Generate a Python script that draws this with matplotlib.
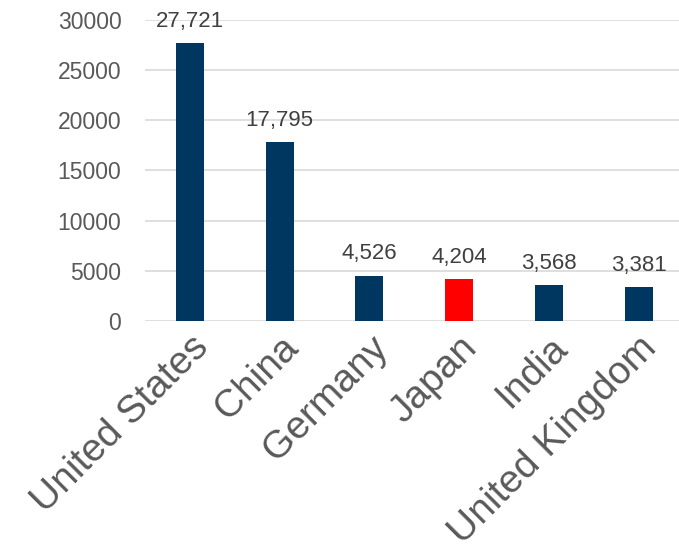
import matplotlib.pyplot as plt

countries = ["United States", "China", "Germany", "Japan", "India", "United Kingdom"]
gdp = [27721, 17795, 4526, 4204, 3568, 3381]
bar_colors = ["#003761", "#003761", "#003761", "#ff0000", "#003761", "#003761"]

plt.rcParams['font.family'] = ['Liberation Sans', 'DejaVu Sans']

fig = plt.figure(figsize=(6.79, 5.56), dpi=100)
ax = fig.add_axes([0.2135, 0.4227, 0.7865, 0.5413])

x = range(len(countries))
bars = ax.bar(x, gdp, width=0.31, color=bar_colors, zorder=3)
for b, v in zip(bars, gdp):
    ax.annotate(f"{v:,}", (b.get_x() + b.get_width() / 2, v), xytext=(0, 8),
                textcoords='offset points', ha='center', va='bottom',
                fontsize=16, color='#404040')

ax.set_ylim(0, 30000)
ax.set_xlim(-0.5, 5.45)
ax.set_yticks(range(0, 30001, 5000))
ax.set_xticks(list(x))
ax.set_xticklabels(countries, rotation=45, ha='right', rotation_mode='anchor',
                   fontsize=28, color='#595959')
ax.tick_params(axis='y', labelsize=16.5, labelcolor='#595959', length=0, pad=17)
ax.tick_params(axis='x', length=0, pad=6)
ax.grid(axis='y', color='#d9d9d9', linewidth=1.2, zorder=0)
for s in ax.spines.values():
    s.set_visible(False)

fig.savefig('out.png', dpi=100)
